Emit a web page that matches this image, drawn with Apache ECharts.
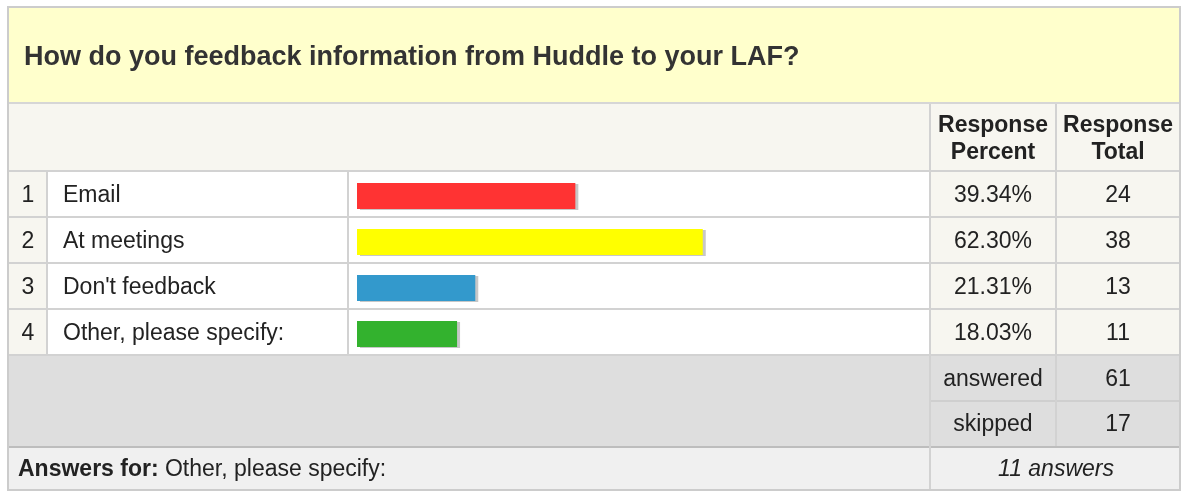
<!DOCTYPE html>
<html lang="en">
<head>
    <meta charset="utf-8">
    <title>Huddle feedback</title>
    <script src="https://cdn.jsdelivr.net/npm/echarts@6/dist/echarts.min.js"></script>
    <style>
        html, body { margin: 0; padding: 0; background: #fff; }
        #pic1 { width: 1183px; height: 492px; }
    </style>
</head>
<body>
<div id="pic1"></div>

<script>
    // survey data
    var question = 'How do you feedback information from Huddle to your LAF?';
    var rowNumbers = ['1', '2', '3', '4'];
    var categories = ['Email', 'At meetings', "Don't feedback", 'Other, please specify:'];
    var percents = [39.34, 62.30, 21.31, 18.03];
    var totals = [24, 38, 13, 11];
    var barColors = ['#ff3333', '#ffff00', '#3399cc', '#33b22e'];
    var answered = 61;
    var skipped = 17;
    var otherAnswers = 11;

    window.onload = function () {
        var mCharts = echarts.init(document.getElementById('pic1'));
        var font = '"Liberation Sans", Arial, sans-serif';
        var line = '#d2d2d2';

        function hline(x1, x2, y, color, w) {
            return { type: 'line', z: -5, shape: { x1: x1, y1: y, x2: x2, y2: y }, style: { stroke: color || line, lineWidth: w || 2 } };
        }
        function vline(x, y1, y2, color, w) {
            return { type: 'line', z: -5, shape: { x1: x, y1: y1, x2: x, y2: y2 }, style: { stroke: color || line, lineWidth: w || 2 } };
        }
        function box(x, y, w, h, fill) {
            return { type: 'rect', z: -10, shape: { x: x, y: y, width: w, height: h }, style: { fill: fill } };
        }
        function label(x, y, text, align, extra) {
            var st = { text: text, x: x, y: y, align: align || 'center', verticalAlign: 'middle',
                font: '23px ' + font, fill: '#222' };
            for (var k in extra) st[k] = extra[k];
            return { type: 'text', z: 5, style: st };
        }

        // table frame
        var graphics = [
            box(9, 8, 1171, 95, '#ffffcc'),
            box(9, 104, 1171, 67, '#f7f6f0'),
            box(9, 171, 38, 185, '#f7f6f0'),
            box(47, 171, 883, 185, '#ffffff'),
            box(930, 171, 250, 185, '#f7f6f0'),
            box(9, 356, 1171, 91, '#dedede'),
            box(9, 448, 1171, 42, '#f0f0f0'),
            hline(9, 1180, 103, '#d6d6d6', 2),
            hline(9, 1180, 171),
            hline(9, 1180, 217),
            hline(9, 1180, 263),
            hline(9, 1180, 309),
            hline(9, 1180, 355),
            hline(930, 1180, 401, '#cfcfcf', 2),
            hline(9, 1180, 447, '#bdbdbd', 2),
            vline(47, 171, 355),
            vline(348, 171, 355),
            vline(930, 104, 490),
            vline(1056, 104, 446),
            { type: 'rect', z: 10, shape: { x: 8, y: 7, width: 1172, height: 483 },
                style: { fill: null, stroke: '#cccccc', lineWidth: 2 } },
            label(24, 58, question, 'left', { font: 'bold 27px ' + font, fill: '#333' }),
            label(993, 126, 'Response', 'center', { font: 'bold 23px ' + font }),
            label(993, 153, 'Percent', 'center', { font: 'bold 23px ' + font }),
            label(1118, 126, 'Response', 'center', { font: 'bold 23px ' + font }),
            label(1118, 153, 'Total', 'center', { font: 'bold 23px ' + font }),
            label(993, 380, 'answered'),
            label(1118, 380, String(answered)),
            label(993, 425, 'skipped'),
            label(1118, 425, String(skipped)),
            label(1056, 470, otherAnswers + ' answers', 'center', { font: 'italic 23px ' + font }),
            { type: 'text', z: 5, style: {
                text: '{b|Answers for:} Other, please specify:', x: 18, y: 470,
                verticalAlign: 'middle', font: '23px ' + font, fill: '#222',
                rich: { b: { fontWeight: 'bold', fontSize: 23, fontFamily: font, fill: '#222' } }
            } }
        ];

        function rowAxis(position, data, margin, align) {
            return {
                type: 'category', gridIndex: 0, position: position, inverse: true, data: data,
                axisLine: { show: false }, axisTick: { show: false }, splitLine: { show: false },
                axisLabel: { margin: margin, align: align, color: '#222', fontSize: 23, fontFamily: font,
                    padding: [9, 0, 0, 0] }
            };
        }

        var option = {
            animation: false,
            grid: { left: 357, top: 173, width: 555, height: 184, containLabel: false },
            xAxis: { type: 'value', min: 0, max: 100, show: false },
            yAxis: [
                rowAxis('left', categories, 294, 'left'),
                rowAxis('left', rowNumbers, 329, 'center'),
                rowAxis('right', percents.map(function (p) { return p.toFixed(2) + '%'; }), 81, 'center'),
                rowAxis('right', totals.map(String), 206, 'center')
            ],
            series: [{
                type: 'bar',
                yAxisIndex: 0,
                barWidth: 26,
                data: percents.map(function (p, i) {
                    return {
                        value: p,
                        itemStyle: {
                            color: barColors[i],
                            shadowColor: 'rgba(0,0,0,0.22)', shadowBlur: 0,
                            shadowOffsetX: 3, shadowOffsetY: 1
                        }
                    };
                })
            }],
            graphic: graphics
        };

        mCharts.setOption(option);
    };
</script>

</body>
</html>
